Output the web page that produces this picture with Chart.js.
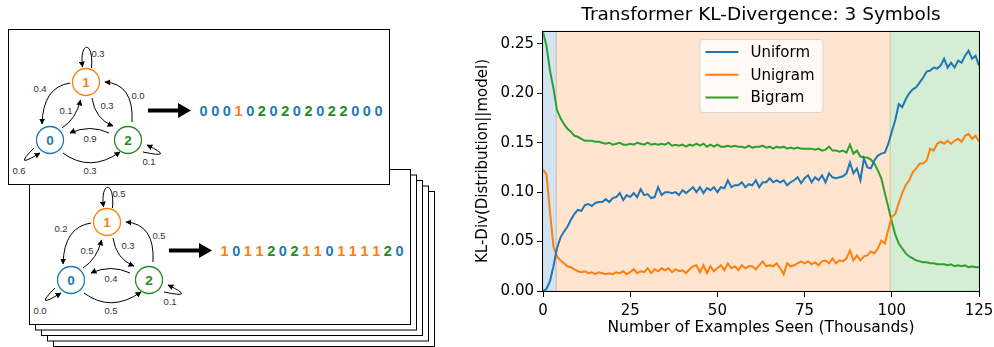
<!DOCTYPE html>
<html>
<head>
<meta charset="utf-8">
<script src="https://cdn.jsdelivr.net/npm/chart.js@4.4.1/dist/chart.umd.min.js"></script>
<style>
body { margin: 0; background: #fff; width: 994px; height: 347px; overflow: hidden; position: relative; }
#diagram { position: absolute; left: 0; top: 0; }
#wrap { position: absolute; left: 470px; top: 0; width: 524px; height: 347px; }
</style>
</head>
<body>
<svg id="diagram" width="470" height="347" xmlns="http://www.w3.org/2000/svg"></svg>
<div id="wrap"><canvas id="line-chart"></canvas></div>
<script>
// x values, thousands of examples
steps = [0,1,2,3,4,5,6,7,8,9,10,11,12,13,14,15,16,17,18,19,20,21,22,23,24,25,26,27,28,29,30,
  31,32,33,34,35,36,37,38,39,40,41,42,43,44,45,46,47,48,49,50,51,52,53,54,55,56,57,58,59,60,
  61,62,63,64,65,66,67,68,69,70,71,72,73,74,75,76,77,78,79,80,81,82,83,84,85,86,87,88,89,90,
  91,92,93,94,95,96,97,98,99,100,101,102,103,104,105,106,107,108,109,110,111,112,113,114,115,
  116,117,118,119,120,121,122,123,124,125]

uniform = [0.000,0.002,0.010,0.025,0.043,0.054,0.060,0.065,0.072,0.078,0.082,0.081,0.087,0.088,0.086,0.089,
  0.090,0.090,0.093,0.090,0.094,0.095,0.099,0.092,0.097,0.095,0.099,0.095,0.103,0.097,0.098,
  0.094,0.095,0.105,0.097,0.100,0.100,0.099,0.100,0.097,0.102,0.099,0.102,0.105,0.100,0.105,
  0.099,0.104,0.102,0.105,0.100,0.105,0.104,0.112,0.105,0.107,0.107,0.110,0.105,0.108,0.107,
  0.112,0.105,0.110,0.110,0.114,0.110,0.112,0.110,0.112,0.107,0.110,0.112,0.115,0.109,0.114,
  0.117,0.110,0.115,0.112,0.117,0.110,0.119,0.115,0.114,0.115,0.116,0.119,0.130,0.119,0.124,
  0.112,0.134,0.125,0.124,0.132,0.137,0.139,0.140,0.149,0.161,0.173,0.189,0.186,0.194,0.200,
  0.204,0.206,0.211,0.216,0.222,0.223,0.226,0.225,0.228,0.235,0.226,0.231,0.226,0.233,0.231,
  0.238,0.243,0.235,0.238,0.228]

unigram = [0.123,0.118,0.080,0.045,0.035,0.031,0.028,0.025,0.024,0.022,0.020,0.019,0.020,0.018,0.019,0.017,
  0.019,0.018,0.017,0.018,0.017,0.019,0.018,0.020,0.017,0.019,0.022,0.018,0.020,0.019,0.023,
  0.018,0.022,0.020,0.023,0.021,0.023,0.019,0.022,0.020,0.021,0.018,0.022,0.025,0.026,0.019,
  0.026,0.018,0.025,0.020,0.023,0.026,0.021,0.028,0.023,0.025,0.021,0.026,0.023,0.025,0.025,
  0.022,0.026,0.030,0.025,0.026,0.025,0.028,0.023,0.017,0.028,0.025,0.026,0.028,0.030,0.028,
  0.030,0.027,0.029,0.026,0.030,0.031,0.028,0.033,0.028,0.031,0.030,0.033,0.041,0.031,0.036,
  0.031,0.035,0.036,0.040,0.038,0.043,0.051,0.048,0.062,0.075,0.078,0.089,0.099,0.107,0.112,
  0.120,0.124,0.129,0.129,0.132,0.144,0.142,0.149,0.151,0.149,0.152,0.149,0.152,0.154,0.151,
  0.157,0.159,0.154,0.157,0.151]

bigram = [0.262,0.248,0.223,0.205,0.183,0.175,0.169,0.164,0.161,0.157,0.156,0.154,0.152,0.152,0.152,0.151,
  0.151,0.150,0.149,0.150,0.148,0.149,0.150,0.148,0.148,0.149,0.148,0.150,0.149,0.148,0.150,
  0.148,0.149,0.148,0.149,0.148,0.150,0.147,0.148,0.147,0.148,0.146,0.148,0.147,0.149,0.147,
  0.149,0.146,0.148,0.146,0.148,0.146,0.146,0.147,0.146,0.147,0.146,0.146,0.145,0.147,0.145,
  0.146,0.146,0.147,0.145,0.146,0.144,0.146,0.145,0.146,0.144,0.145,0.144,0.145,0.144,0.144,
  0.144,0.144,0.143,0.144,0.142,0.143,0.146,0.142,0.142,0.141,0.142,0.140,0.148,0.139,0.142,
  0.136,0.135,0.135,0.133,0.129,0.122,0.114,0.099,0.085,0.070,0.057,0.048,0.043,0.038,0.035,
  0.033,0.031,0.030,0.029,0.029,0.028,0.028,0.027,0.027,0.027,0.026,0.027,0.025,0.026,0.025,
  0.026,0.024,0.025,0.024,0.024]

// training phases (x bounds) shaded behind the curves
phaseEdges = [0, 3.8, 99.5, 125]
phaseColors = ['rgba(31,119,180,0.2)', 'rgba(255,127,14,0.2)', 'rgba(44,160,44,0.2)']

seriesNames = ['Uniform', 'Unigram', 'Bigram']
seriesColors = ['#1f77b4', '#ff7f0e', '#2ca02c']

// left diagram: two markov chains and sampled sequences
chain1Probs = ['0.3', '0.4', '0.1', '0.3', '0.0', '0.9', '0.3', '0.6', '0.1']
chain1Seq = [0,0,0,1,0,2,0,2,0,2,0,2,2,0,0,0]
chain2Probs = ['0.5', '0.2', '0.5', '0.3', '0.5', '0.4', '0.5', '0.0', '0.1']
chain2Seq = [1,0,1,1,2,0,2,1,1,0,1,1,1,1,2,0]

symColors = ['#1f77b4', '#ff7f0e', '#238b23']
nodes = [[50, 140], [86, 82], [128, 140]]
// self1, 1->0, 0->1, 1->2, 2->1, 2->0, 0->2, self0, self2
edgePaths = [
  'M 91.5 68 C 94 40, 79 41, 82.5 67',
  'M 70 83 Q 43 87, 42 124',
  'M 62 128 Q 76 119, 80.5 100',
  'M 92 98 Q 95 119, 113 126',
  'M 132 122 Q 134 84, 105 82',
  'M 109 133 Q 90 124, 70 133',
  'M 63 153 Q 90 173, 120 152',
  'M 34 148 Q 12 170, 40 153',
  'M 143 152 Q 176 159, 147 145'
]
labelPos = [[98, 54], [40, 89], [66, 111], [107, 106], [138, 96], [90, 139], [90, 171], [19, 171], [149, 162]]

function drawCard(ox, oy, probs, seq, withContent) {
  s = '<rect x="' + (8.5 + ox) + '" y="' + (29.5 + oy) + '" width="381" height="155" fill="#fff" stroke="#000" stroke-width="1"/>'
  if (!withContent) return s
  s += '<g transform="translate(' + ox + ',' + oy + ')">'
  for (var i in edgePaths) {
    s += '<path d="' + edgePaths[i] + '" fill="none" stroke="#000" stroke-width="1" marker-end="url(#ah)"/>'
    s += '<text x="' + labelPos[i][0] + '" y="' + (labelPos[i][1] + 3.3) + '" font-size="9.5" fill="#333" text-anchor="middle">' + probs[i] + '</text>'
  }
  for (var n in nodes) {
    s += '<circle cx="' + nodes[n][0] + '" cy="' + nodes[n][1] + '" r="13.5" fill="#fff" stroke="' + symColors[n] + '" stroke-width="1.3"/>'
    s += '<text x="' + nodes[n][0] + '" y="' + (nodes[n][1] + 4.8) + '" font-size="13.5" font-weight="bold" fill="' + symColors[n] + '" text-anchor="middle">' + n + '</text>'
  }
  s += '<line x1="148" y1="110.5" x2="180" y2="110.5" stroke="#000" stroke-width="4"/>'
  s += '<path d="M 178 103 L 191 110.5 L 178 118 Z" fill="#000"/>'
  for (var k in seq) {
    s += '<text x="' + (203.5 + k * 11.67) + '" y="116" font-size="14.5" font-weight="bold" fill="' + symColors[seq[k]] + '" text-anchor="middle">' + seq[k] + '</text>'
  }
  s += '</g>'
  return s
}

svg = '<defs><marker id="ah" viewBox="0 0 10 10" refX="9" refY="5" markerWidth="6" markerHeight="6" orient="auto">' +
  '<path d="M0,0 L10,5 L0,10 z" fill="#000"/></marker></defs>'
svg += '<g font-family="Liberation Sans, Arial, sans-serif">'
for (var b = 4; b >= 1; b--) {
  svg += drawCard(21 + 6 * b, 140 + 5.5 * b, null, null, false)
}
svg += drawCard(21, 140, chain2Probs, chain2Seq, true)
svg += drawCard(0, 0, chain1Probs, chain1Seq, true)
svg += '</g>'
document.getElementById('diagram').innerHTML = svg

// chart
Chart.defaults.font.family = "'DejaVu Sans', sans-serif"
Chart.defaults.color = '#000'

phasePlugin = {
  id: 'phases',
  beforeDatasetsDraw(chart) {
    const ctx = chart.ctx, a = chart.chartArea, x = chart.scales.x
    ctx.save()
    for (var i = 0; i < phaseColors.length; i++) {
      const x0 = x.getPixelForValue(phaseEdges[i]), x1 = x.getPixelForValue(phaseEdges[i + 1])
      ctx.fillStyle = phaseColors[i]
      ctx.fillRect(x0, a.top, x1 - x0, a.bottom - a.top)
      ctx.strokeStyle = phaseColors[i]
      ctx.lineWidth = 1
      ctx.strokeRect(x0, a.top, x1 - x0, a.bottom - a.top)
    }
    ctx.restore()
  }
}

framePlugin = {
  id: 'frame',
  afterDraw(chart) {
    const ctx = chart.ctx, a = chart.chartArea
    ctx.save()
    ctx.strokeStyle = '#000'
    ctx.lineWidth = 1
    ctx.strokeRect(Math.round(a.left) - 0.5, Math.round(a.top) + 0.5, Math.round(a.right - a.left) + 1, Math.round(a.bottom - a.top))
    // legend, upper center
    ctx.font = "15px 'DejaVu Sans', sans-serif"
    var tw = 0
    for (var i in seriesNames) tw = Math.max(tw, ctx.measureText(seriesNames[i]).width)
    const w = 51 + tw + 8, h = 73
    const lx = (a.left + a.right) / 2 - w / 2, ly = a.top + 8
    ctx.beginPath()
    ctx.roundRect(lx + 0.5, ly + 0.5, w, h, 3)
    ctx.fillStyle = 'rgba(255,255,255,0.8)'
    ctx.fill()
    ctx.strokeStyle = '#d6d6d6'
    ctx.stroke()
    ctx.textBaseline = 'middle'
    for (var i = 0; i < seriesNames.length; i++) {
      const yy = ly + 13 + i * 22.8
      ctx.strokeStyle = seriesColors[i]
      ctx.lineWidth = 2
      ctx.beginPath()
      ctx.moveTo(lx + 6, yy)
      ctx.lineTo(lx + 39, yy)
      ctx.stroke()
      ctx.fillStyle = '#000'
      ctx.fillText(seriesNames[i], lx + 51, yy + 1)
    }
    ctx.restore()
  }
}

datasets = [uniform, unigram, bigram].map(function (d, i) {
  return {
    label: seriesNames[i],
    data: d,
    borderColor: seriesColors[i],
    backgroundColor: seriesColors[i],
    borderWidth: 2,
    pointRadius: 0,
    tension: 0,
    fill: false
  }
})

new Chart(document.getElementById('line-chart'), {
  type: 'line',
  data: { labels: steps, datasets: datasets },
  plugins: [phasePlugin, framePlugin],
  options: {
    responsive: true,
    maintainAspectRatio: false,
    animation: false,
    layout: { padding: { left: 0, right: 15, top: 0, bottom: 10 } },
    plugins: {
      legend: { display: false },
      tooltip: { enabled: false },
      title: {
        display: true,
        fullSize: false,
        text: 'Transformer KL-Divergence: 3 Symbols',
        font: { size: 18.5, weight: 'normal' },
        color: '#000',
        padding: { top: 4, bottom: 4.8 }
      }
    },
    scales: {
      x: {
        type: 'linear',
        min: 0,
        max: 125,
        border: { display: false },
        grid: { drawOnChartArea: false, drawTicks: true, tickLength: 6, color: '#000', tickColor: '#000' },
        ticks: { stepSize: 25, font: { size: 15 }, padding: 5, maxRotation: 0, color: '#000' },
        title: { display: true, text: 'Number of Examples Seen (Thousands)', font: { size: 15.5 }, padding: { top: 0, bottom: 0 }, color: '#000' },
        afterFit: function (s) { s.height = 46; s.paddingRight = 0; s.paddingLeft = 0 }
      },
      y: {
        min: 0,
        max: 0.263,
        border: { display: false },
        grid: { drawOnChartArea: false, drawTicks: true, tickLength: 6, color: '#000', tickColor: '#000' },
        ticks: { stepSize: 0.05, includeBounds: false, font: { size: 15 }, padding: 3, color: '#000',
          callback: function (v) { return v.toFixed(2) } },
        title: { display: true, text: 'KL-Div(Distribution||model)', font: { size: 15 }, padding: { top: 4, bottom: 0 }, color: '#000' },
        afterFit: function (s) { s.width = 73; s.paddingTop = 0; s.paddingBottom = 0 }
      }
    }
  }
})
</script>
</body>
</html>
